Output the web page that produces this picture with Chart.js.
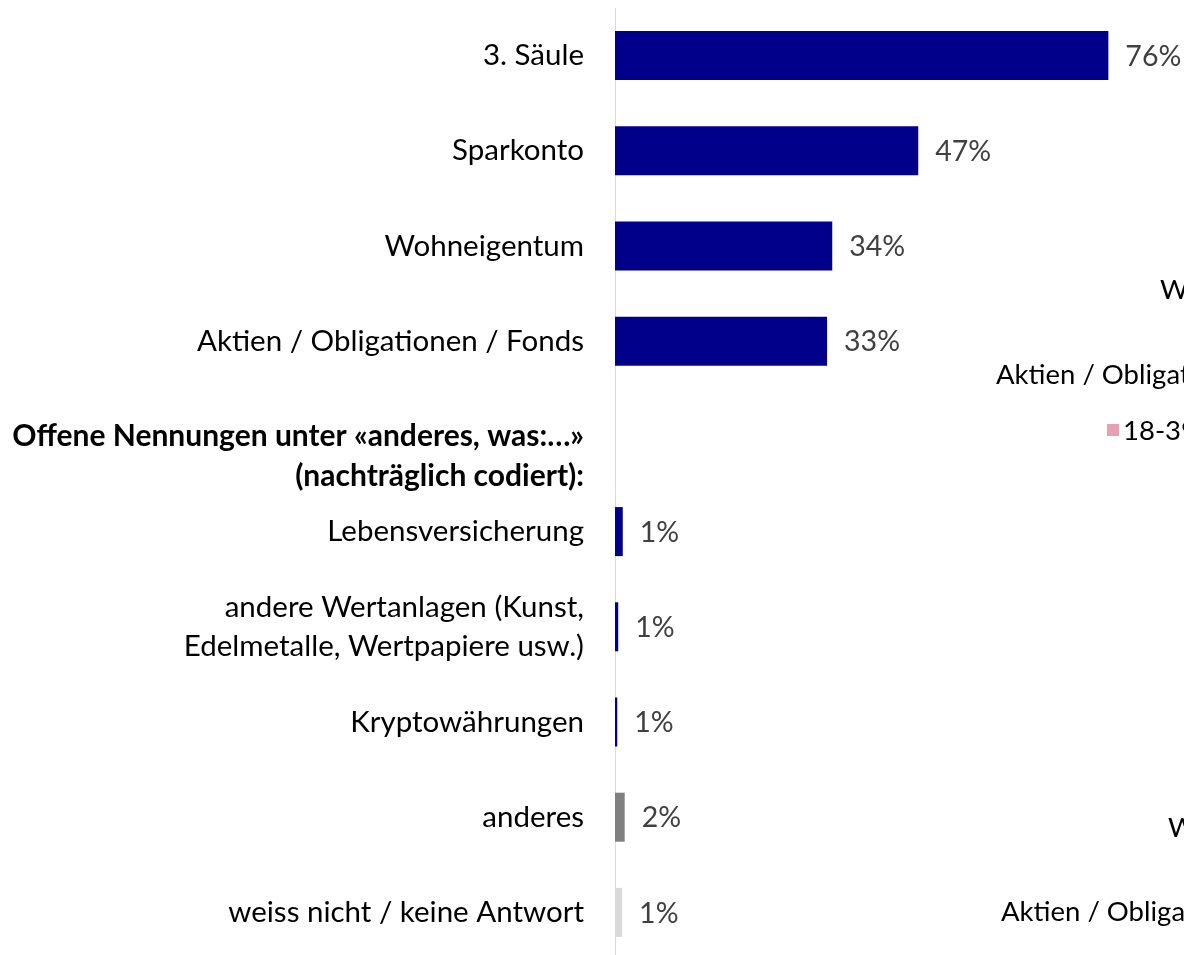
<!DOCTYPE html>
<html>
<head>
<meta charset="utf-8">
<script src="https://cdn.jsdelivr.net/npm/chart.js@4"></script>
<style>
  html, body { margin: 0; padding: 0; background: #fff; overflow: hidden; }
  #box { position: relative; width: 1184px; height: 960px; }
</style>
</head>
<body>
<div id="box"><canvas id="grafico"></canvas></div>
<script>
// categorias (a linha 5 e so o cabecalho das respostas abertas)
var categorias = [
  '3. Säule',
  'Sparkonto',
  'Wohneigentum',
  'Aktien / Obligationen / Fonds',
  ['', 'Offene Nennungen unter «anderes, was:…»', '(nachträglich codiert):'],
  'Lebensversicherung',
  ['andere Wertanlagen (Kunst,', 'Edelmetalle, Wertpapiere usw.)'],
  'Kryptowährungen',
  'anderes',
  'weiss nicht / keine Antwort'
];

// valores em %
var valores = [76.3, 46.9, 33.6, 32.8, null, 1.2, 0.5, 0.35, 1.5, 1.1];

// o que aparece escrito ao lado de cada barra
var rotulos = ['76%', '47%', '34%', '33%', '', '1%', '1%', '1%', '2%', '1%'];

var cores = ['#00008B', '#00008B', '#00008B', '#00008B', '#00008B',
             '#00008B', '#00008B', '#00008B', '#808080', '#D9D9D9'];

// pedacos do grafico vizinho que aparecem cortados na direita
var textos_vizinhos = ['Wohneigentum', 'Aktien / Obligationen / Fonds', '18-39 Jahre', 'Wohneigentum', 'Aktien / Obligationen / Fonds'];

var fonte = 'Lato, "Open Sans", sans-serif';

// escreve as porcentagens no fim das barras
const rotulosPlugin = {
  id: 'rotulos',
  afterDatasetsDraw(chart) {
    const ctx = chart.ctx;
    const meta = chart.getDatasetMeta(0);
    ctx.save();
    ctx.font = '28.5px ' + fonte;
    ctx.fillStyle = '#404040';
    ctx.textAlign = 'left';
    ctx.textBaseline = 'middle';
    meta.data.forEach(function(barra, i) {
      if (!rotulos[i]) return;
      ctx.fillText(rotulos[i], barra.x + 17, barra.y + 1);
    });
    ctx.restore();
  }
};

const vizinhoPlugin = {
  id: 'vizinho',
  afterDraw(chart) {
    const ctx = chart.ctx;
    ctx.save();
    ctx.font = '27.5px ' + fonte;
    ctx.fillStyle = '#000';
    ctx.textAlign = 'left';
    ctx.textBaseline = 'middle';
    ctx.fillText(textos_vizinhos[0], 1160, 290);
    ctx.fillText(textos_vizinhos[1], 996, 375);
    ctx.fillStyle = '#E6A0B4';
    ctx.fillRect(1107, 424, 12, 12);
    ctx.fillStyle = '#000';
    ctx.fillText(textos_vizinhos[2], 1123, 431);
    ctx.fillText(textos_vizinhos[3], 1168, 828);
    ctx.fillText(textos_vizinhos[4], 1001, 912);
    ctx.restore();
  }
};

const grafico = document.getElementById('grafico');

new Chart(grafico, {
  type: 'bar',
  data: {
    labels: categorias,
    datasets: [{
      data: valores,
      backgroundColor: cores,
      borderWidth: 0,
      barPercentage: 0.515,
      categoryPercentage: 1
    }]
  },
  options: {
    indexAxis: 'y',
    responsive: true,
    maintainAspectRatio: false,
    animation: false,
    layout: { padding: { top: 8, left: 0, right: 0, bottom: 0 } },
    plugins: {
      legend: { display: false },
      tooltip: { enabled: false }
    },
    scales: {
      x: {
        display: false,
        min: 0,
        max: 88
      },
      y: {
        afterFit: function(scale) {
          scale.width = 615;
          scale.paddingTop = 0;
          scale.paddingBottom = 0;
        },
        grid: { display: false, drawTicks: false },
        border: { display: true, color: '#D9D9D9', width: 1 },
        ticks: {
          autoSkip: false,
          padding: 31,
          color: '#000',
          font: function(c) {
            if (c.index === 4) return { family: fonte, size: 30, weight: 'bold', lineHeight: 1.34 };
            return { family: fonte, size: 29.5, lineHeight: 1.32 };
          }
        }
      }
    }
  },
  plugins: [rotulosPlugin, vizinhoPlugin]
});
</script>
</body>
</html>
